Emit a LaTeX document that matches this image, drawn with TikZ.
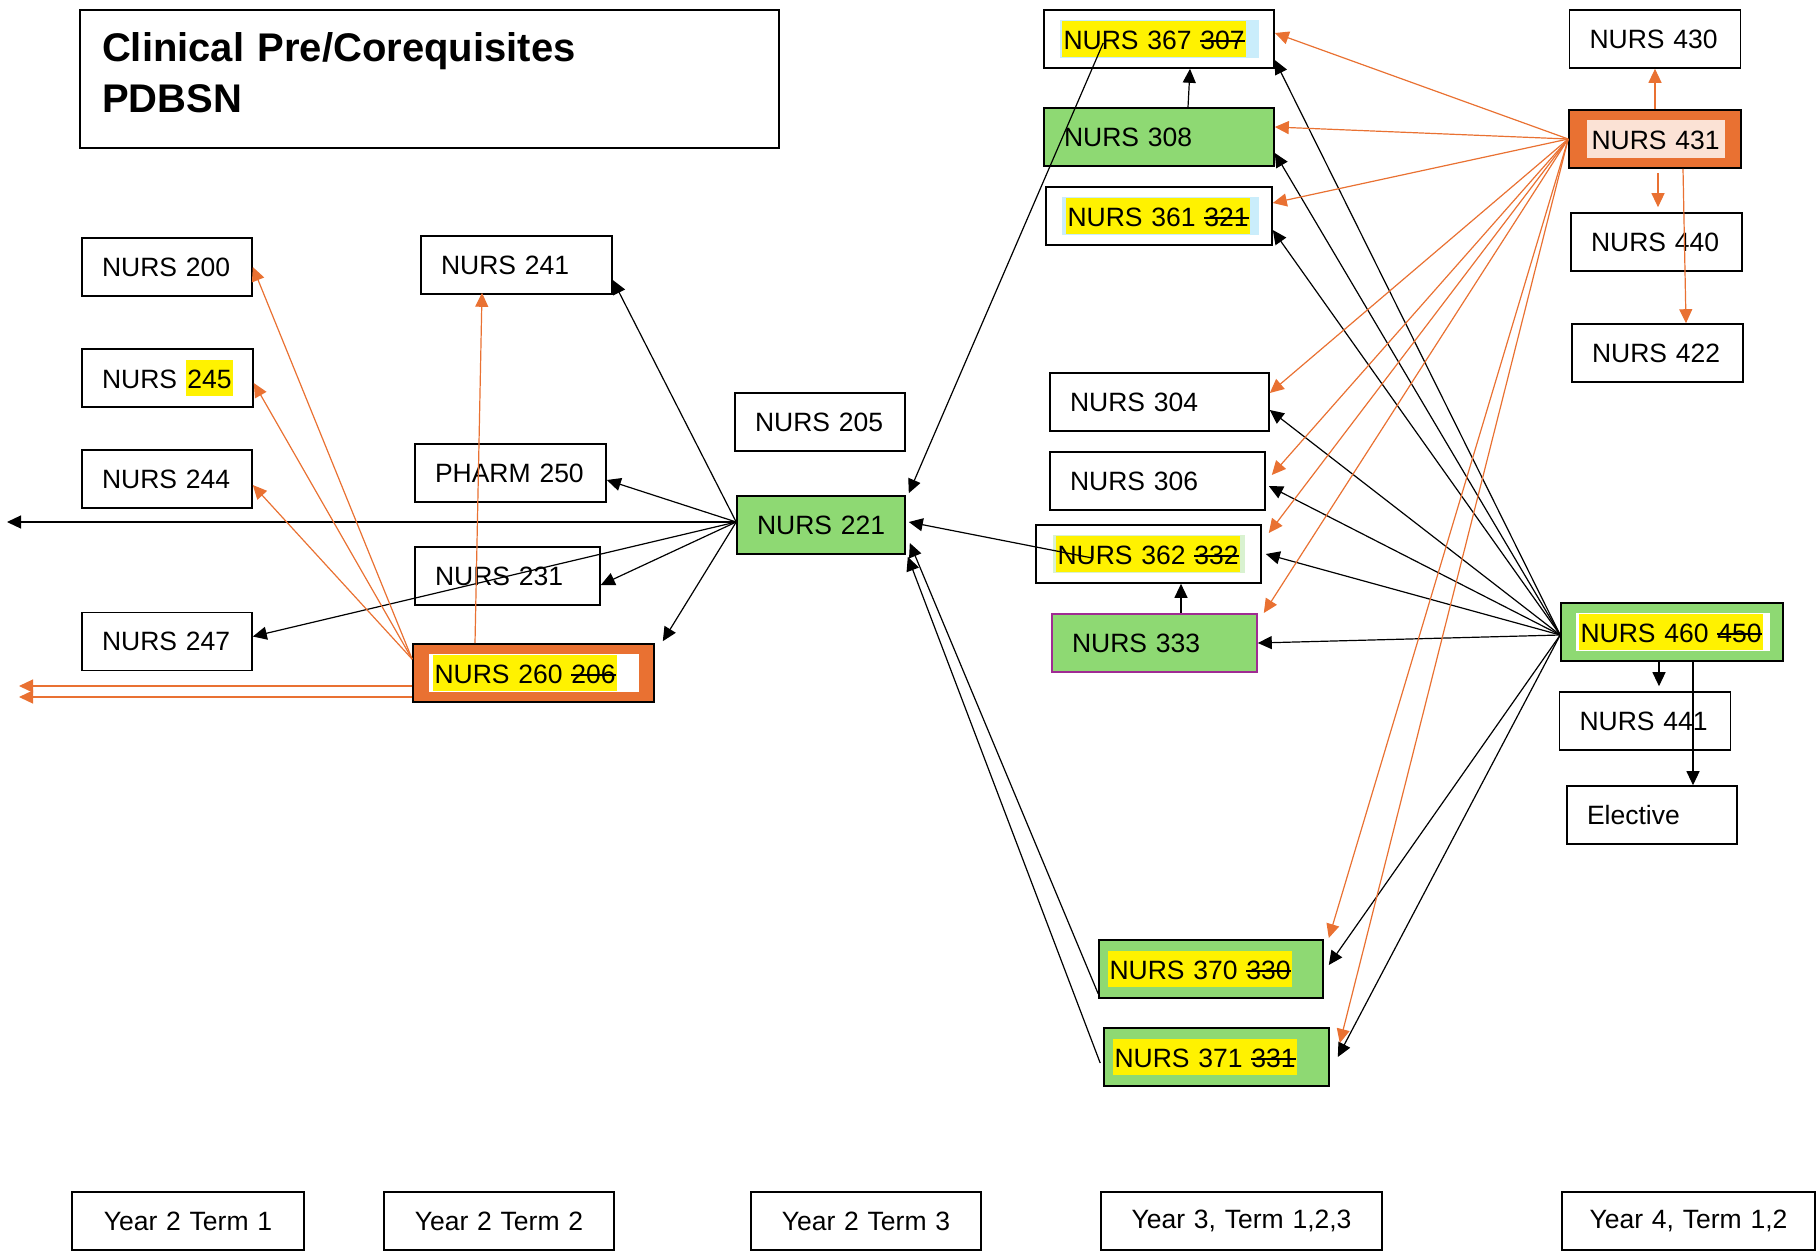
\documentclass[tikz,border=0pt]{standalone}
\usepackage{fontspec}
\setmainfont{Liberation Sans}
\usetikzlibrary{arrows.meta}

\definecolor{ogreen}{HTML}{8ED973}
\definecolor{oorange}{HTML}{E97132}
\definecolor{hlblue}{HTML}{CAEDFB}
\definecolor{hlgreen}{HTML}{D9F2D0}
\definecolor{hlpink}{HTML}{FBE2D5}
\definecolor{opurple}{HTML}{A02B93}

\newsavebox\strkbox
\newcommand\strk[1]{\sbox\strkbox{#1}\rlap{\rule[7.5pt]{\wd\strkbox}{1.5pt}}\usebox\strkbox}
\newcommand\hl[1]{{\setlength\fboxsep{0pt}\colorbox{yellow}{\rule[-8pt]{0pt}{36pt}\hspace{1.5pt}#1\hspace{1.5pt}}}}
\newcommand\inbox[4]{{\setlength\fboxsep{0pt}\colorbox{#1}{\rule[-9pt]{0pt}{38pt}\hspace{#2}#4\hspace{#3}}}}
\newcommand\coursefont{\fontsize{26.5pt}{32pt}\selectfont}

\begin{document}
\begin{tikzpicture}[x=1pt, y=-1pt, >={Triangle[length=14pt,width=13pt]}]
    \tikzstyle{titlebox}=[rectangle, draw=black, line width=1.6pt, fill=white, inner ysep=0pt, align=left]
    \tikzstyle{course}=[titlebox, minimum height=58pt, inner xsep=20pt, font=\coursefont, execute at begin node={\leavevmode\hbox\bgroup}, execute at end node={\egroup}]
    \tikzstyle{clin}=[course, fill=ogreen]
    \tikzstyle{lead}=[course, fill=oorange]
    \tikzstyle{term}=[course, align=center]
    \tikzstyle{link}=[->, draw=black, line width=1.2pt]
    \tikzstyle{olink}=[->, draw=oorange, line width=1.2pt]

    \useasboundingbox (0,0) rectangle (1817,1256);

    \node[titlebox, text width=655pt, minimum height=138pt, inner xsep=22pt, font=\fontsize{40pt}{51pt}\selectfont\bfseries] (title) at (429.5,79) {Clinical Pre/Corequisites\\PDBSN\rule[-12pt]{0pt}{12pt}};

    % terms along the bottom
    \node[term, text width=192pt] (y2t1) at (188,1221) {Year 2 Term 1};
    \node[term, text width=190pt] (y2t2) at (499,1221) {Year 2 Term 2};
    \node[term, text width=190pt] (y2t3) at (866,1221) {Year 2 Term 3};
    \node[term, text width=241pt] (y3) at (1241.5,1221) {Year 3, Term 1,2,3};
    \node[term, text width=213pt] (y4) at (1688.5,1221) {Year 4, Term 1,2};

    % year 2 term 1
    \foreach \name/\y in {200/267, 244/479, 247/641.5}
        \node[course, text width=130pt] (n\name) at (167,\y) {NURS \name};
    \node[course, text width=131pt] (n245) at (167.5,378) {NURS \hl{245}};

    % year 2 term 2
    \node[course, text width=151pt] (n241) at (516.5,265) {NURS 241};
    \node[course, text width=151pt] (pharm250) at (510.5,473) {PHARM 250};
    \node[course, text width=145pt] (n231) at (507.5,576) {NURS 231};
    \node[lead, inner xsep=16pt, text width=209pt] (n260) at (533.5,673) {\inbox{white}{4pt}{22pt}{\hl{NURS 260 \strk{206}}}};

    % year 2 term 3
    \node[course, text width=130pt] (n205) at (820,422) {NURS 205};
    \node[clin, text width=128pt] (n221) at (821,525) {NURS 221};

    % year 3
    \node[course, inner xsep=16pt, text width=198pt] (n367) at (1159,39) {\inbox{hlblue}{2pt}{13pt}{\hl{NURS 367 \strk{307}}}};
    \node[clin, text width=190pt] (n308) at (1159,137) {NURS 308};
    \node[course, inner xsep=16pt, text width=194pt] (n361) at (1159,216) {\inbox{hlblue}{4pt}{9pt}{\hl{NURS 361 \strk{321}}}};
    \node[course, text width=179pt] (n304) at (1159.5,402) {NURS 304};
    \node[course, text width=175pt] (n306) at (1157.5,481) {NURS 306};
    \node[course, inner xsep=17pt, text width=191pt] (n362) at (1148.5,554) {\inbox{hlgreen}{3pt}{5pt}{\hl{NURS 362 \strk{332}}}};
    \node[clin, draw=opurple, text width=165pt] (n333) at (1154.5,643) {NURS 333};
    \node[clin, inner xsep=9pt, text width=206pt] (n370) at (1211,969) {\hl{NURS 370 \strk{330}}};
    \node[clin, inner xsep=9pt, text width=207pt] (n371) at (1216.5,1057) {\hl{NURS 371 \strk{331}}};

    % year 4
    \foreach \name/\x/\y in {430/1655/39, 440/1656.5/242, 422/1657.5/353, 441/1645/721}
        \node[course, text width=131pt] (n\name) at (\x,\y) {NURS \name};
    \node[lead, inner xsep=17.5pt, text width=137pt] (n431) at (1655,139) {\inbox{hlpink}{5pt}{5pt}{NURS 431}};
    \node[clin, inner xsep=15pt, text width=192pt] (n460) at (1672,632) {\inbox{white}{3pt}{7pt}{\hl{NURS 460 \strk{450}}}};
    \node[course, text width=130pt] (elective) at (1652,815) {Elective};

    \coordinate (exit221) at (7,522);
    \coordinate (exit260a) at (19,686);
    \coordinate (exit260b) at (19,697);

    % NURS 221 out to the left
    \foreach \dest/\anc/\dx/\dy in {n241/east/0/-15, pharm250/east/0/-7, n231/east/0/-9, n247/east/0/5, n260/north east/8/2}
        \draw[link] ([yshift=3pt]n221.west) -- ([xshift=\dx pt,yshift=\dy pt]\dest.\anc);
    \draw[link] ([yshift=3pt]n221.west) -- (exit221);

    % into NURS 221
    \draw[link] ([xshift=57pt,yshift=-4pt]n362.west) -- ([xshift=3pt,yshift=3pt]n221.east);
    \draw[link] ([xshift=60pt,yshift=-4pt]n367.west) -- ([xshift=3pt,yshift=2pt]n221.north east);
    \draw[link] ([yshift=5pt]n370.south west) -- ([xshift=4pt,yshift=-18pt]n221.east);
    \draw[link] ([xshift=-3pt,yshift=-6pt]n371.west) -- ([xshift=2pt,yshift=-2pt]n221.south east);

    \draw[link] ([xshift=29pt]n308.north) -- ([xshift=31pt]n367.south);
    \draw[link] ([xshift=26.5pt]n333.north) -- ([xshift=32.5pt]n362.south);

    % NURS 460
    \foreach \dest/\dx/\dy in {n367/0/-21, n308/0/-16, n361/0/-14, n304/0/-8, n306/3/-5, n362/4/0, n333/0/0, n370/5/4, n371/8/0}
        \draw[link] ([yshift=-3pt]n460.west) -- ([xshift=\dx pt,yshift=\dy pt]\dest.east);
    \draw[link] ([xshift=-13pt]n460.south) -- ([xshift=14pt,yshift=5pt]n441.north);
    \draw[link] ([xshift=21pt]n460.south) -- ([xshift=41pt]elective.north);

    % NURS 431
    \foreach \dest/\dx/\dy in {n367/0/6, n308/0/10, n361/0/13, n304/0/9, n306/6/6, n362/7/21, n333/6/30, n370/5/31, n371/10/14}
        \draw[olink] (n431.west) -- ([xshift=\dx pt,yshift=\dy pt]\dest.east);
    \draw[olink] (n431.north) -- (n430.south);
    \draw[olink] ([xshift=3pt,yshift=-4pt]n431.south) -- ([xshift=1.5pt,yshift=5pt]n440.north);
    \draw[olink] ([xshift=28pt]n431.south) -- ([xshift=28.5pt]n422.north);

    % NURS 260
    \foreach \dest/\dy in {n200/0, n245/-5, n244/-6}
        \draw[olink] ([yshift=-16pt]n260.north west) -- ([yshift=\dy pt]\dest.east);
    \draw[olink] ([xshift=-58.5pt]n260.north) -- ([xshift=-34.5pt,yshift=2pt]n241.south);
    \draw[olink] ([yshift=-13pt]n260.west) -- (exit260a);
    \draw[olink] ([yshift=-24pt]n260.west) -- (exit260b);
\end{tikzpicture}
\end{document}
